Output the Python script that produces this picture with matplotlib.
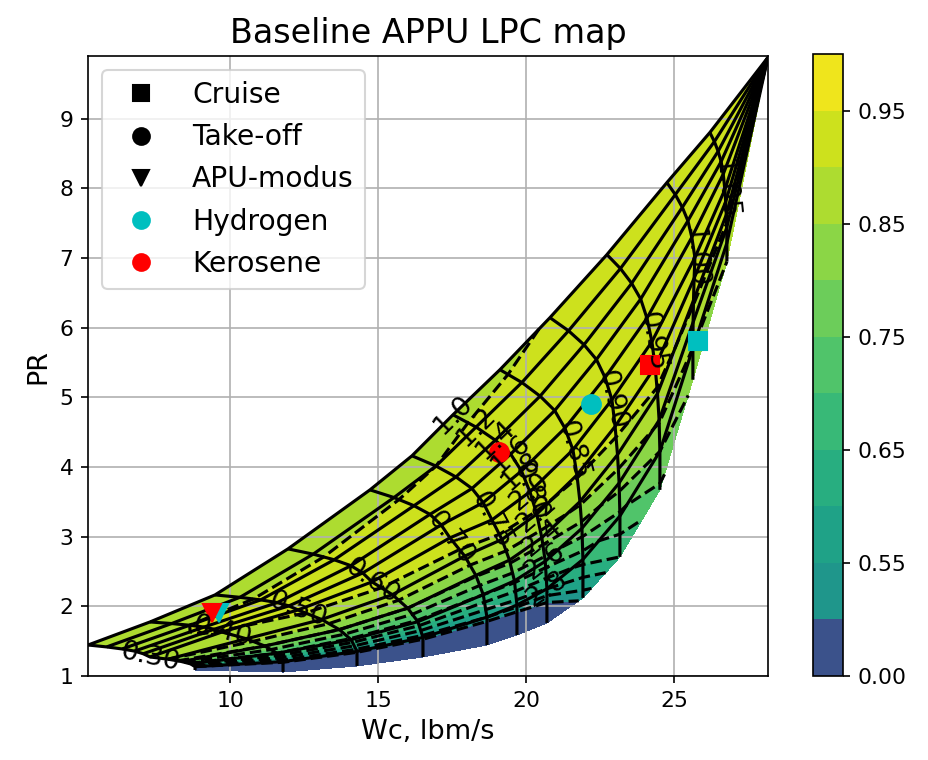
import numpy as np
import matplotlib
matplotlib.use("Agg")
import matplotlib.pyplot as plt
from matplotlib.lines import Line2D

# Corrected speed lines and R-lines of the LPC map
NC_VALS = [0.30, 0.40, 0.50, 0.60, 0.70, 0.75, 0.80, 0.85, 0.90, 0.95, 1.00, 1.05, 1.10]
RLINE_VALS = [1.0, 1.2, 1.4, 1.6, 1.8, 2.0, 2.2, 2.4, 2.6, 2.8, 3.0]

# Each speed line: surge end (R-line 1.0), middle point (R-line 2.0), choke end (R-line 3.0)
SURGE_WC = [5.203, 7.297, 9.493, 11.959, 14.730, 16.149, 17.534, 19.122, 20.811, 22.737, 24.764, 26.216, 28.176]
SURGE_PR = [1.445, 1.776, 2.164, 2.825, 3.672, 4.161, 4.750, 5.397, 6.144, 7.049, 8.083, 8.802, 9.879]
MID_WC = [7.297, 9.730, 12.297, 14.797, 17.432, 18.851, 20.135, 21.588, 22.905, 24.257, 25.710, 26.723, 28.176]
MID_PR = [1.273, 1.632, 1.948, 2.351, 2.983, 3.241, 3.644, 4.247, 4.966, 5.799, 7.006, 7.983, 9.879]
CHOKE_WC = [8.818, 11.791, 14.291, 16.520, 18.682, 19.696, 20.709, 21.926, 23.176, 24.527, 25.642, 26.791, 28.176]
CHOKE_PR = [1.086, 1.057, 1.144, 1.273, 1.445, 1.589, 1.762, 2.121, 2.710, 3.672, 5.253, 6.948, 9.879]

# Spacing of the R-lines along a speed line: surge -> middle, then middle -> choke
FRONT_WC_FRAC = [0.0, 0.30, 0.55, 0.75, 0.89, 1.0]
FRONT_PR_FRAC = [0.0, 0.16, 0.33, 0.51, 0.73, 1.0]
BACK_WC_FRAC = [0.40, 0.70, 0.90, 1.0, 1.0]
BACK_PR_FRAC = [0.17, 0.35, 0.53, 0.74, 1.0]

# Isentropic efficiency table (rows: speed lines, columns: R-lines)
EFF_MAP = [
    [0.860, 0.875, 0.880, 0.880, 0.878, 0.872, 0.850, 0.780, 0.680, 0.500, 0.200],
    [0.860, 0.885, 0.900, 0.905, 0.905, 0.898, 0.878, 0.800, 0.700, 0.520, 0.200],
    [0.862, 0.887, 0.907, 0.914, 0.914, 0.907, 0.885, 0.800, 0.690, 0.520, 0.200],
    [0.865, 0.890, 0.910, 0.920, 0.920, 0.913, 0.885, 0.800, 0.690, 0.530, 0.200],
    [0.870, 0.895, 0.915, 0.925, 0.925, 0.918, 0.890, 0.805, 0.700, 0.550, 0.220],
    [0.878, 0.900, 0.920, 0.928, 0.928, 0.920, 0.893, 0.815, 0.710, 0.570, 0.260],
    [0.885, 0.908, 0.925, 0.930, 0.930, 0.923, 0.897, 0.830, 0.730, 0.600, 0.350],
    [0.893, 0.912, 0.928, 0.932, 0.932, 0.926, 0.905, 0.860, 0.780, 0.670, 0.520],
    [0.902, 0.918, 0.930, 0.934, 0.933, 0.928, 0.912, 0.880, 0.820, 0.740, 0.650],
    [0.908, 0.920, 0.930, 0.933, 0.932, 0.928, 0.918, 0.895, 0.855, 0.800, 0.740],
    [0.910, 0.920, 0.927, 0.930, 0.930, 0.927, 0.920, 0.905, 0.880, 0.850, 0.810],
    [0.910, 0.918, 0.924, 0.926, 0.926, 0.924, 0.918, 0.910, 0.895, 0.875, 0.850],
    [0.910, 0.915, 0.920, 0.922, 0.922, 0.920, 0.916, 0.910, 0.900, 0.890, 0.875],
]
EFF_LEVELS = [0.0, 0.50, 0.55, 0.60, 0.65, 0.70, 0.75, 0.80, 0.85, 0.90, 0.95, 1.00]
CBAR_TICKS = [0.00, 0.55, 0.65, 0.75, 0.85, 0.95]

# Operating points per fuel: cruise, take-off, APU mode
FUELS = ["Hydrogen", "Kerosene"]
FUEL_COLORS = ["c", "r"]
CRUISE_WC = [25.8, 24.2]
CRUISE_PR = [5.81, 5.47]
TAKEOFF_WC = [22.2, 19.1]
TAKEOFF_PR = [4.90, 4.22]
APU_WC = [9.62, 9.38]
APU_PR = [1.90, 1.90]

# Map grid: one row per speed line, one column per R-line
s_w, m_w, c_w = (np.array(a)[:, None] for a in (SURGE_WC, MID_WC, CHOKE_WC))
s_p, m_p, c_p = (np.array(a)[:, None] for a in (SURGE_PR, MID_PR, CHOKE_PR))
wc = np.hstack([s_w + (m_w - s_w) * np.array(FRONT_WC_FRAC)[None, :],
                m_w + (c_w - m_w) * np.array(BACK_WC_FRAC)[None, :]])
pr = np.hstack([s_p + (m_p - s_p) * np.array(FRONT_PR_FRAC)[None, :],
                m_p + (c_p - m_p) * np.array(BACK_PR_FRAC)[None, :]])
nc = np.repeat(np.array(NC_VALS)[:, None], len(RLINE_VALS), axis=1)
rl = np.repeat(np.array(RLINE_VALS)[None, :], len(NC_VALS), axis=0)
eff = np.array(EFF_MAP)

fig = plt.figure(figsize=(928 / 150, 760 / 150), dpi=150)
ax = fig.add_axes([88 / 928, 1 - 676 / 760, 680 / 928, 620 / 760])
cax = fig.add_axes([813 / 928, 1 - 676 / 760, 30 / 928, 622 / 760])

cs_eff = ax.contourf(wc, pr, eff, levels=EFF_LEVELS, cmap="viridis")
ax.contour(wc, pr, eff, levels=EFF_LEVELS, colors="k", linestyles="dashed")
cs_nc = ax.contour(wc, pr, nc, levels=NC_VALS, colors="k")
cs_rl = ax.contour(wc, pr, rl, levels=RLINE_VALS, colors="k")
ax.clabel(cs_nc, fmt="%.2f", inline=False, fontsize=13)
ax.clabel(cs_rl, fmt="%.1f", inline=False, fontsize=13)

for k in range(len(FUELS)):
    ax.plot(CRUISE_WC[k], CRUISE_PR[k], "s", color=FUEL_COLORS[k], ms=9)
    ax.plot(TAKEOFF_WC[k], TAKEOFF_PR[k], "o", color=FUEL_COLORS[k], ms=9)
    ax.plot(APU_WC[k], APU_PR[k], "v", color=FUEL_COLORS[k], ms=9)

handles = [
    Line2D([], [], ls="None", marker="s", color="k", ms=8, label="Cruise"),
    Line2D([], [], ls="None", marker="o", color="k", ms=8, label="Take-off"),
    Line2D([], [], ls="None", marker="v", color="k", ms=8, label="APU-modus"),
    Line2D([], [], ls="None", marker="o", color="c", ms=8, label=FUELS[0]),
    Line2D([], [], ls="None", marker="o", color="r", ms=8, label=FUELS[1]),
]
ax.legend(handles=handles, loc="upper left", fontsize=13.5)

ax.set_xlim(5.2, 28.18)
ax.set_ylim(1.0, 9.9)
ax.set_xticks([10, 15, 20, 25])
ax.set_yticks(range(1, 10))
ax.tick_params(labelsize=10.5)
ax.grid(True)
ax.set_xlabel("Wc, lbm/s", fontsize=13)
ax.set_ylabel("PR", fontsize=13)
ax.set_title("Baseline APPU LPC map", fontsize=16)

cb = fig.colorbar(cs_eff, cax=cax, ticks=CBAR_TICKS, format="%.2f")
cb.ax.tick_params(labelsize=10.5)

fig.savefig("out.png", dpi=150)
